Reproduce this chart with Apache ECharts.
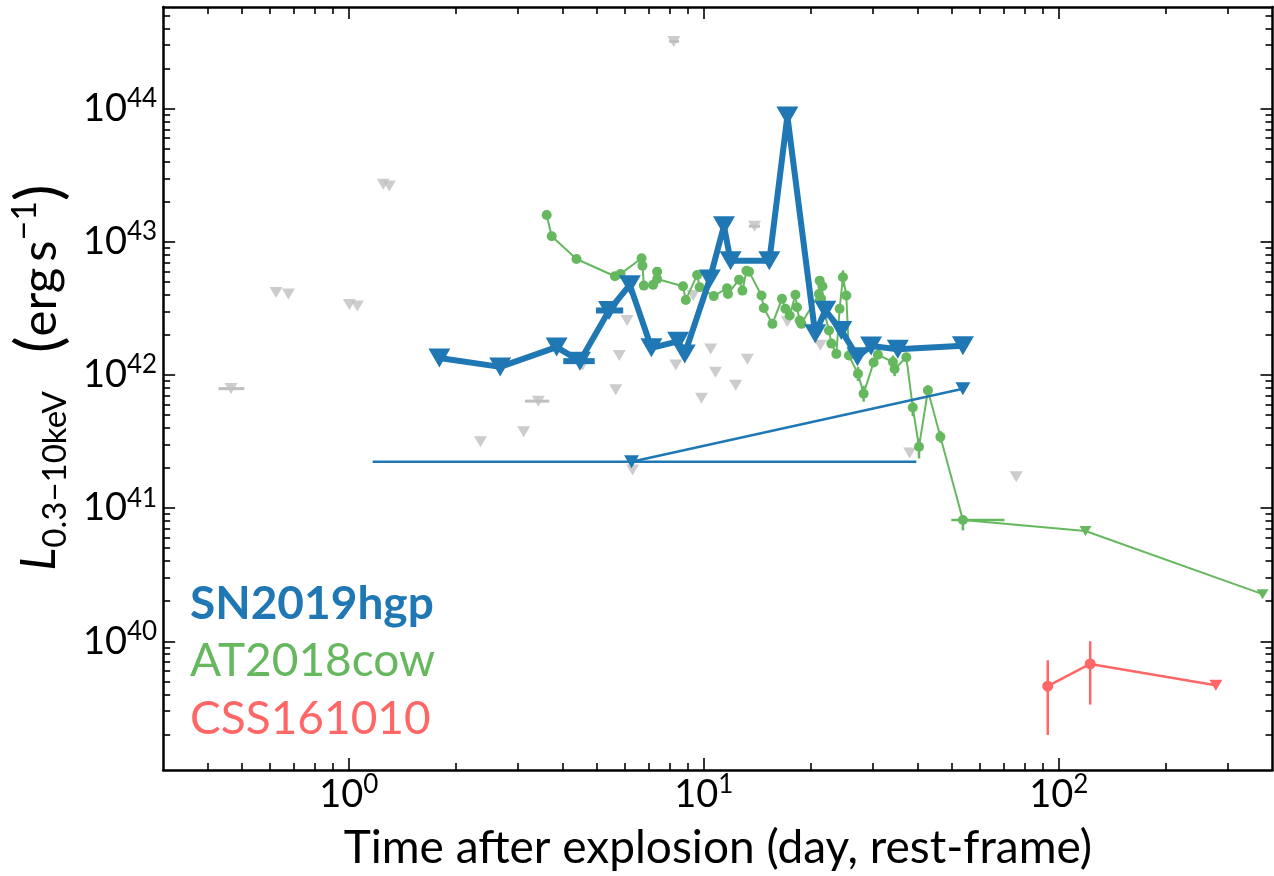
<!DOCTYPE html>
<html>
<head>
<meta charset="utf-8">
<script src="https://cdn.jsdelivr.net/npm/echarts@6/dist/echarts.min.js"></script>
<style>html,body{margin:0;padding:0;background:#fff}#main{width:1274px;height:876px}</style>
</head>
<body>
<div id="main"></div>
<script>
// SN2019hgp - upper limits joined by the thick line
var hgpX = [1.80, 2.67, 3.85, 4.48, 5.41, 6.19, 7.12, 8.47, 8.84, 10.4, 11.4, 11.9, 15.3, 17.2, 20.6, 22.0, 24.4, 27.1, 29.6, 35.2, 53.7];
var hgpY = [1.34e42, 1.15e42, 1.62e42, 1.27e42, 3.05e42, 4.75e42, 1.60e42, 1.79e42, 1.44e42, 5.26e42, 1.32e43, 7.2e42, 7.2e42, 8.8e43, 2.04e42, 3.06e42, 2.16e42, 1.37e42, 1.65e42, 1.56e42, 1.66e42];
var hgpXerr = [[4.48, 1.27e42, 4.02, 4.93], [5.41, 3.05e42, 4.97, 5.93]];
// SN2019hgp - stacked limits (thin line)
var hgpStackX = [6.26, 53.7];
var hgpStackY = [2.23e41, 7.89e41];
var hgpStackXerr = [[6.26, 2.23e41, 1.168, 39.7]];

// AT2018cow
var cowX = [3.61, 3.73, 4.38, 5.62, 5.83, 6.68, 6.72, 6.78, 7.20, 7.39, 7.39, 8.74, 8.90, 9.58, 9.74, 10.67, 11.63, 11.70, 12.57, 12.85, 13.19, 13.41, 14.54, 14.76, 15.61, 16.61, 16.98, 17.46, 18.12, 18.31, 18.63, 18.84, 21.11, 21.21, 21.59, 21.4, 22.53, 22.88, 23.63, 24.14, 24.66, 25.21, 25.64, 27.19, 28.20, 30.09, 30.94, 34.11, 34.49, 37.2, 38.8, 40.4, 42.8, 46.4, 53.7, 118.9, 375];
var cowY = [1.59e43, 1.10e43, 7.43e42, 5.51e42, 5.74e42, 7.52e42, 6.62e42, 4.69e42, 4.75e42, 5.97e42, 5.26e42, 4.64e42, 3.66e42, 5.64e42, 4.56e42, 3.91e42, 4.48e42, 4.06e42, 5.20e42, 4.30e42, 6.07e42, 5.97e42, 3.95e42, 3.18e42, 2.42e42, 3.73e42, 3.14e42, 2.80e42, 4.00e42, 3.23e42, 2.56e42, 2.42e42, 4.06e42, 5.11e42, 4.64e42, 3.73e42, 2.16e42, 1.72e42, 1.44e42, 3.14e42, 5.42e42, 3.95e42, 1.40e42, 1.02e42, 7.24e41, 1.24e42, 1.42e42, 1.25e42, 1.11e42, 1.36e42, 5.69e41, 2.89e41, 7.66e41, 3.43e41, 8.15e40, 6.74e40, 2.26e40];
var cowUpper = [55, 56];
var cowYerr = [[21.21, 5.11e42, 4.4e42, 5.5e42], [24.66, 5.42e42, 4.6e42, 6.1e42], [27.19, 1.02e42, 0.9e42, 1.15e42], [28.20, 7.24e41, 6.3e41, 8.3e41], [34.11, 1.25e42, 1.1e42, 1.4e42], [34.49, 1.11e42, 0.98e42, 1.25e42], [38.8, 5.69e41, 4.9e41, 6.3e41], [40.4, 2.89e41, 2.36e41, 3.33e41], [42.8, 7.66e41, 7.0e41, 8.4e41], [46.4, 3.43e41, 3.1e41, 3.8e41], [53.7, 8.15e40, 6.8e40, 8.8e40]];
var cowXerr = [[53.7, 8.15e40, 49.8, 70.3]];

// CSS161010
var cssX = [93.1, 122.6, 277];
var cssY = [4.60e39, 6.76e39, 4.68e39];
var cssUpper = [2];
var cssYerr = [[93.1, 4.60e39, 1.98e39, 7.2e39], [122.6, 6.76e39, 3.35e39, 1.0e40]];

// other transients (grey upper limits)
var otherX = [0.466, 0.624, 0.676, 1.004, 1.057, 1.251, 1.301, 2.35, 3.11, 3.42, 4.56, 6.08, 5.78, 5.65, 6.30, 8.34, 8.23, 9.33, 9.85, 10.46, 10.79, 12.3, 13.27, 13.9, 17.2, 21.3, 38.0, 75.9];
var otherY = [7.9e41, 4.17e42, 4.06e42, 3.38e42, 3.29e42, 2.71e43, 2.63e43, 3.15e41, 3.74e41, 6.36e41, 1.19e42, 2.57e42, 1.40e42, 7.76e41, 1.93e41, 1.19e42, 3.2e44, 3.95e42, 6.7e41, 1.57e42, 1.05e42, 8.36e41, 1.31e42, 1.31e43, 2.51e42, 1.67e42, 2.6e41, 1.72e41];
var otherXerr = [[0.466, 7.9e41, 0.4296, 0.508], [3.42, 6.36e41, 3.135, 3.67], [8.23, 3.2e44, 7.99, 8.52], [13.9, 1.31e43, 13.4, 14.4]];

// axes
var xMin = 0.3, xMax = 400, yMin = 1.08e39, yMax = 5.8e44;
var xMajor = [1, 10, 100];
var xMinor = [0.4, 0.5, 0.6, 0.7, 0.8, 0.9, 2, 3, 4, 5, 6, 7, 8, 9, 20, 30, 40, 50, 60, 70, 80, 90, 200, 300];
var yMajor = [1e40, 1e41, 1e42, 1e43, 1e44];
var yMinor = [2e39, 3e39, 4e39, 5e39, 6e39, 7e39, 8e39, 9e39, 2e40, 3e40, 4e40, 5e40, 6e40, 7e40, 8e40, 9e40,
  2e41, 3e41, 4e41, 5e41, 6e41, 7e41, 8e41, 9e41, 2e42, 3e42, 4e42, 5e42, 6e42, 7e42, 8e42, 9e42,
  2e43, 3e43, 4e43, 5e43, 6e43, 7e43, 8e43, 9e43, 2e44, 3e44, 4e44, 5e44];

var FONT = 'Lato';
var BLUE = '#1f77b4', GREEN = '#66b85f', RED = '#ff6666', GREY = '#bfbfbf';

var myChart = echarts.init(document.getElementById('main'));

var powLabel = {
    fontFamily: FONT,
    rich: {
        b: {fontSize: 38, lineHeight: 46, color: '#000', fontFamily: FONT},
        s: {fontSize: 26, lineHeight: 26, verticalAlign: 'top', color: '#000', fontFamily: FONT}
    },
    formatter: function (v) {
        return '{b|10}{s|' + Math.round(Math.log10(v)) + '}';
    }
};

function axis(dim, pos, ticks, len, withLine, labels) {
    var a = {
        type: 'log',
        position: pos,
        min: dim === 'x' ? xMin : yMin,
        max: dim === 'x' ? xMax : yMax,
        splitLine: {show: false},
        axisLine: {show: withLine, lineStyle: {color: '#000', width: 2.5}},
        axisTick: {show: true, inside: true, length: len, customValues: ticks, lineStyle: {color: '#000', width: 1.6}},
        axisLabel: {show: false}
    };
    if (labels) {
        a.axisLabel = echarts.util.extend({show: true, customValues: labels, margin: dim === 'x' ? 2 : 6}, powLabel);
    }
    return a;
}

var xAxes = [
    axis('x', 'bottom', xMajor, 12, true, xMajor),
    axis('x', 'bottom', xMinor, 7, false),
    axis('x', 'top', xMajor, 12, true),
    axis('x', 'top', xMinor, 7, false)
];
xAxes[0].name = 'Time after explosion (day, rest-frame)';
xAxes[0].nameLocation = 'middle';
xAxes[0].nameGap = 55;
xAxes[0].nameTextStyle = {fontFamily: FONT, fontSize: 46, color: '#000'};

var yAxes = [
    axis('y', 'left', yMajor, 12, true, yMajor),
    axis('y', 'left', yMinor, 7, false),
    axis('y', 'right', yMajor, 12, true),
    axis('y', 'right', yMinor, 7, false)
];
yAxes[0].name = '{L|L}{sub|0.3\u221210keV}{gap| }{p|(}{n|erg\u2009s}{sup|\u22121}{p|)}';
yAxes[0].nameLocation = 'middle';
yAxes[0].nameRotate = 90;
yAxes[0].nameGap = 90;
yAxes[0].nameTextStyle = {
    fontFamily: FONT, color: '#000',
    padding: [0, 0, 0, 22],
    rich: {
        L: {fontSize: 48, fontStyle: 'italic', lineHeight: 64, fontFamily: FONT},
        sub: {fontSize: 33, lineHeight: 32, verticalAlign: 'bottom', fontFamily: FONT},
        gap: {fontSize: 30, width: 38},
        p: {fontSize: 62, lineHeight: 64, fontFamily: FONT},
        n: {fontSize: 49, lineHeight: 64, fontFamily: FONT},
        sup: {fontSize: 34, lineHeight: 32, verticalAlign: 'top', fontFamily: FONT}
    }
};

function points(xs, ys, upper, circle, tri) {
    return xs.map(function (x, i) {
        if (upper.indexOf(i) >= 0) {
            return {value: [x, ys[i]], symbol: 'triangle', symbolRotate: 180, symbolSize: tri};
        }
        return {value: [x, ys[i]], symbol: 'circle', symbolSize: circle};
    });
}

function errBars(name, rows, horizontal, color, width, z) {
    return {
        type: 'custom', name: name, z: z, silent: true,
        encode: {x: 0, y: 1},
        renderItem: function (params, api) {
            var x = api.value(0), y = api.value(1);
            var a = horizontal ? api.coord([api.value(2), y]) : api.coord([x, api.value(2)]);
            var b = horizontal ? api.coord([api.value(3), y]) : api.coord([x, api.value(3)]);
            return {
                type: 'line',
                shape: {x1: a[0], y1: a[1], x2: b[0], y2: b[1]},
                style: {stroke: color, lineWidth: width}
            };
        },
        data: rows
    };
}

var option = {
    animation: false,
    backgroundColor: '#fff',
    grid: {left: 163, right: 1.5, top: 7, bottom: 104, containLabel: false},
    xAxis: xAxes,
    yAxis: yAxes,
    legend: {
        orient: 'vertical', left: 180, top: 574,
        icon: 'none', itemWidth: 0, itemGap: 7.5, selectedMode: false,
        textStyle: {fontFamily: FONT, fontSize: 46, lineHeight: 50},
        data: [
            {name: 'SN2019hgp', textStyle: {color: BLUE, fontWeight: 'bold'}},
            {name: 'AT2018cow', textStyle: {color: GREEN}},
            {name: 'CSS161010', textStyle: {color: RED}}
        ]
    },
    series: [
        {
            name: 'other', type: 'scatter', z: 1, silent: true,
            symbol: 'triangle', symbolRotate: 180, symbolSize: [13, 11],
            itemStyle: {color: GREY},
            data: otherX.map(function (x, i) { return [x, otherY[i]]; })
        },
        errBars('other-err', otherXerr, true, GREY, 3, 1),
        {
            name: 'AT2018cow', type: 'line', z: 3, silent: true,
            itemStyle: {color: GREEN}, lineStyle: {color: GREEN, width: 2},
            data: points(cowX, cowY, cowUpper, 10, [12, 10])
        },
        errBars('cow-yerr', cowYerr, false, GREEN, 2.5, 3),
        errBars('cow-xerr', cowXerr, true, GREEN, 2.5, 3),
        {
            name: 'CSS161010', type: 'line', z: 3, silent: true,
            itemStyle: {color: RED}, lineStyle: {color: RED, width: 2.5},
            data: points(cssX, cssY, cssUpper, 11, [13, 11])
        },
        errBars('css-yerr', cssYerr, false, RED, 2.5, 3),
        {
            name: 'SN2019hgp', type: 'line', z: 4, silent: true,
            symbol: 'triangle', symbolRotate: 180, symbolSize: [15, 13],
            itemStyle: {color: BLUE}, lineStyle: {color: BLUE, width: 2.5},
            data: hgpStackX.map(function (x, i) { return [x, hgpStackY[i]]; })
        },
        errBars('hgp-stack-err', hgpStackXerr, true, BLUE, 2.5, 4),
        {
            name: 'SN2019hgp', type: 'line', z: 5, silent: true,
            symbol: 'triangle', symbolRotate: 180, symbolSize: [22, 19],
            itemStyle: {color: BLUE}, lineStyle: {color: BLUE, width: 6},
            data: hgpX.map(function (x, i) { return [x, hgpY[i]]; })
        },
        errBars('hgp-err', hgpXerr, true, BLUE, 6, 5)
    ]
};

myChart.setOption(option);
</script>
</body>
</html>
